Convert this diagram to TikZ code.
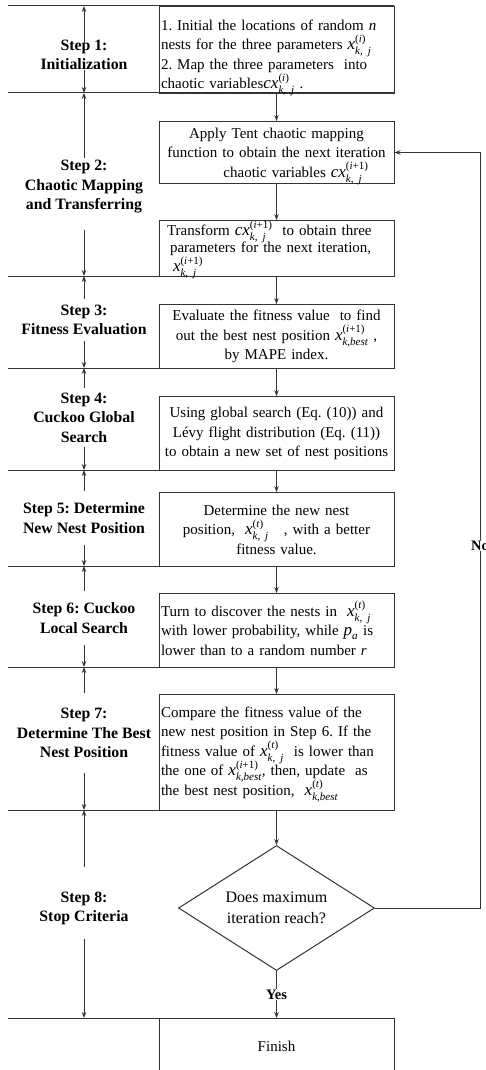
\documentclass[tikz,border=0pt]{standalone}
\usepackage{amsmath}
\usepackage{fontspec}
\setmainfont{Liberation Serif}
\usetikzlibrary{shapes.geometric, arrows.meta, positioning, calc}
% variable with upper and lower index, kept off the line spacing
\newcommand{\vx}[3]{\smash{{\fontsize{17}{19}\selectfont\itshape #1}%
  $^{\text{\fontsize{11}{11}\selectfont #2}}_{\text{\fontsize{11}{11}\selectfont\itshape #3}}$}}

\begin{document}
\frenchspacing
\begin{tikzpicture}[x=1pt, y=-1pt,
  txt/.style={font=\fontsize{15}{19.5}\selectfont},
  stepbox/.style={rectangle, draw=black!80, line width=1pt, txt,
                  text width=231pt, inner xsep=2pt, inner ysep=3pt, anchor=north},
  steplbl/.style={font=\fontsize{15.8}{19.5}\selectfont\bfseries,
                  align=center, inner sep=0pt},
  decide/.style={diamond, draw=black!80, line width=1pt,
                 font=\fontsize{16}{21}\selectfont,
                 align=center, aspect=1.6, inner sep=0pt,
                 minimum width=196pt, minimum height=125pt},
  sep/.style={draw=black!80, line width=1pt},
  arr/.style={-{Stealth[length=6pt, width=4.5pt]}, draw=black!80, line width=1pt},
  tag/.style={font=\fontsize{14.5}{16}\selectfont\bfseries, fill=white,
              inner sep=1pt}
]
\useasboundingbox (0,0) rectangle (485,1070);

% separators between the steps
\foreach \n/\y in {0/6, 1/93, 2/276, 3/368, 4/470, 5/566, 6/667, 7/810, 8/1018}{
  \coordinate (s\n) at (84,\y);
  \draw[sep] (8,\y) -- (394,\y);
}

% step labels
\node[steplbl, minimum height=30pt]  (l1) at (84,55)    {Step 1:\\Initialization};
\node[steplbl, minimum height=86pt]  (l2) at (84,187)   {Step 2:\\Chaotic Mapping\\and Transferring};
\node[steplbl, minimum height=42pt]  (l3) at (84,320)   {Step 3:\\Fitness Evaluation};
\node[steplbl, minimum height=59pt]  (l4) at (84,417.5) {Step 4:\\Cuckoo Global\\Search};
\node[steplbl, minimum height=53pt]  (l5) at (84,518)   {Step 5: Determine\\New Nest Position};
\node[steplbl, minimum height=53pt]  (l6) at (84,618)   {Step 6: Cuckoo\\Local Search};
\node[steplbl, minimum height=80pt]  (l7) at (84,733)   {Step 7:\\Determine The Best\\Nest Position};
\node[steplbl, minimum height=83pt]  (l8) at (84,908.5) {Step 8:\\Stop Criteria};

\foreach \i/\a/\b/\u/\d in {1/0/1/-13pt/0pt, 2/1/2/-14pt/0pt, 3/2/3/0pt/0pt,
    4/3/4/0pt/0pt, 5/4/5/0pt/0pt, 6/5/6/0pt/0pt, 7/6/7/0pt/0pt, 8/7/8/0pt/-11pt}{
  \draw[arr, shorten <=\u] (l\i.north) -- (s\a);
  \draw[arr, shorten <=\d] (l\i.south) -- (s\b);
}

% process boxes
\node[stepbox, align=left, minimum height=87pt, inner ysep=0pt,
      text height=19pt, text depth=58pt] (b1) at (276.5,6)
  {1. Initial the locations of random \textit{n}\\
   nests for the three parameters \vx{x}{(\textit{i})}{k, j}\\
   2. Map the three parameters\ \ into\\
   chaotic variables\vx{cx}{(\textit{i})}{k, j} .};
\node[stepbox, align=center, minimum height=62pt] (b2) at (276.5,121)
  {Apply Tent chaotic mapping\\
   function to obtain the next iteration\\
   \hspace*{2.6em}chaotic variables \vx{cx}{(\textit{i}+1)}{k, j}};
\node[stepbox, align=left, minimum height=56pt, inner ysep=1pt,
      font=\fontsize{15}{17}\selectfont] (b3) at (276.5,220)
  {\hspace*{0.4em}Transform \vx{cx}{(\textit{i}+1)}{k, j}\ \ to obtain three\\
   \hspace*{0.6em}parameters for the next iteration,\\[2pt]
   \hspace*{0.8em}\vx{x}{(\textit{i}+1)}{k, j}};
\node[stepbox, align=center, minimum height=64pt] (b4) at (276.5,304)
  {Evaluate the fitness value\ \ to find\\
   out the best nest position \vx{x}{(\textit{i}+1)}{k,best} ,\\
   by MAPE index.};
\node[stepbox, align=center, minimum height=74pt] (b5) at (276.5,396)
  {Using global search (Eq. (10)) and\\
   Lévy flight distribution (Eq. (11))\\
   to obtain a new set of nest positions};
\node[stepbox, align=center, minimum height=74pt] (b6) at (276.5,492)
  {Determine the new nest\\
   position,\ \ \vx{x}{(\textit{t})}{k, j}\ \ \ , with a better\\
   fitness value.};
\node[stepbox, align=left, minimum height=74pt] (b7) at (276.5,593)
  {Turn to discover the nests in\ \ \vx{x}{(\textit{t})}{k, j}\\
   with lower probability, while \vx{p}{}{a} is\\
   lower than to a random number \textit{r}};
\node[stepbox, align=left, minimum height=116pt] (b8) at (276.5,694)
  {Compare the fitness value of the\\
   new nest position in Step 6. If the\\
   fitness value of \vx{x}{(\textit{t})}{k, j}\ \ is lower than\\
   the one of \vx{x}{(\textit{i}+1)}{k,best}, then, update\ \ as\\
   the best nest position,\ \ \vx{x}{(\textit{t})}{k,best}};
\node[decide] (d) at (276.5,908) {Does maximum\\iteration reach?};
\node[stepbox, align=center, minimum height=56pt] (fin) at (276.5,1018) {Finish};

% flow
\foreach \a/\b in {b1/b2, b2/b3, b3/b4, b4/b5, b5/b6, b6/b7, b7/b8, b8/d}{
  \draw[arr] (\a.south) -- (\b.north);
}
\draw[arr] (d.south) -- node[tag] (yes) {Yes} (fin.north);
\coordinate (nocorner) at (480,908);
\draw[arr] (d.east) -- (nocorner) |- node[pos=0.24, tag] (no) {No} (b2.east);
\end{tikzpicture}
\end{document}
